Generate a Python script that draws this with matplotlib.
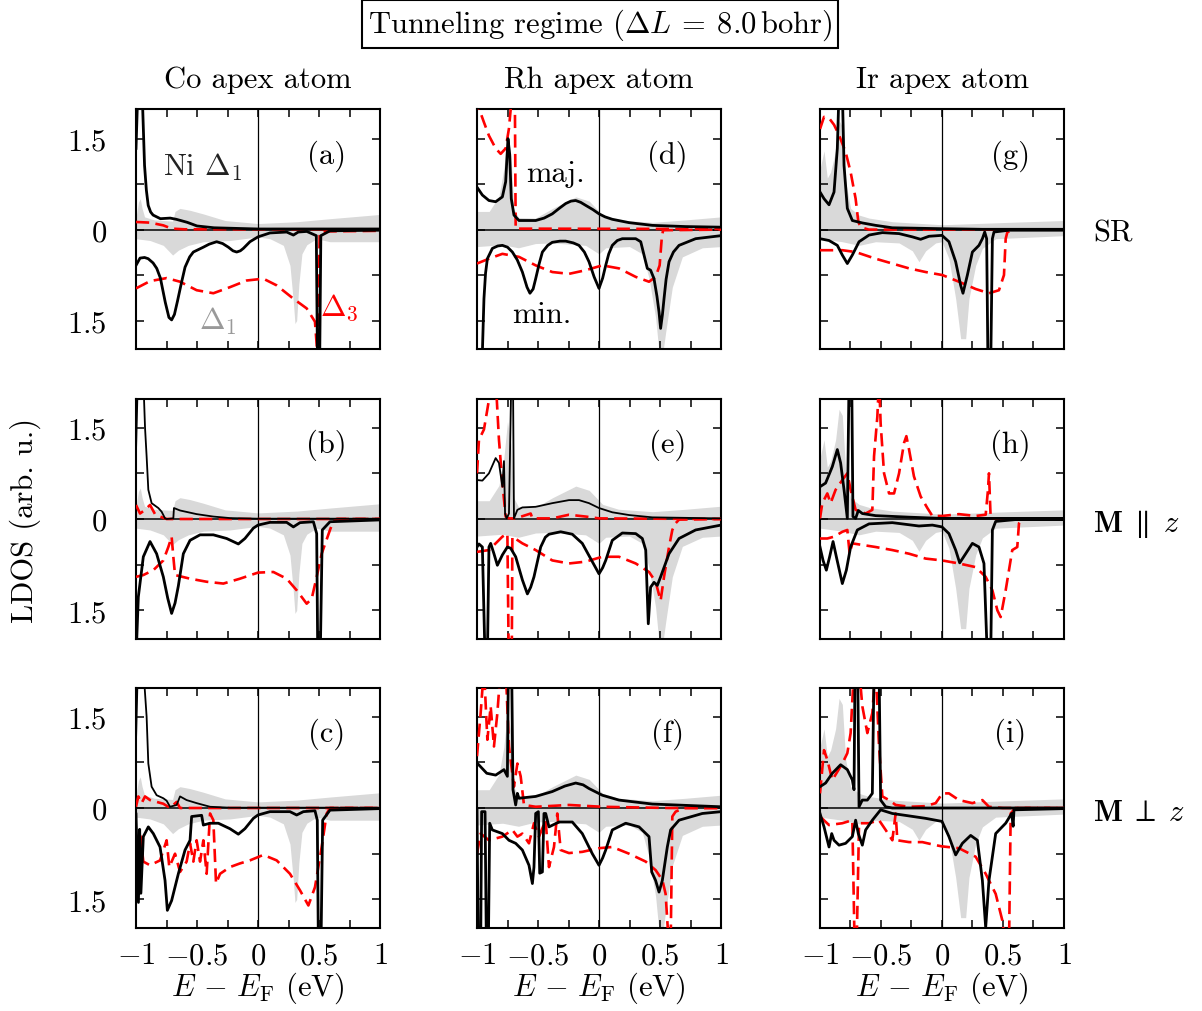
import numpy as np
import matplotlib
matplotlib.use("Agg")
import matplotlib.pyplot as plt

plt.rcParams['font.family'] = 'serif'
plt.rcParams['font.serif'] = ['cmr10']
plt.rcParams['mathtext.fontset'] = 'cm'
plt.rcParams['axes.unicode_minus'] = False
plt.rcParams['axes.formatter.use_mathtext'] = True

# ---- data: (E - E_F in eV, LDOS).  minority values stored as magnitudes ----
# grey: Ni Delta_1 reference, one per apex atom column
GREY_CO_MAJ = [(-1.0, 0.20), (-0.98, 0.45), (-0.965, 0.51), (-0.95, 0.35), (-0.93, 0.21), (-0.85, 0.16),
               (-0.70, 0.14), (-0.68, 0.30), (-0.64, 0.35), (-0.56, 0.32), (-0.45, 0.26), (-0.27, 0.15),
               (0.0, 0.10), (0.32, 0.13), (0.59, 0.18), (1.0, 0.25)]
GREY_CO_MIN = [(-1.0, 0.15), (-0.885, 0.18), (-0.776, 0.26), (-0.70, 0.42), (-0.653, 0.34), (-0.571, 0.26),
               (-0.448, 0.20), (-0.23, 0.18), (0.0, 0.12), (0.098, 0.15), (0.208, 0.26), (0.262, 0.59),
               (0.29, 1.2), (0.303, 1.55), (0.317, 1.5), (0.335, 0.9), (0.36, 0.4), (0.40, 0.25),
               (0.48, 0.15), (0.59, 0.2), (1.0, 0.2)]
GREY_RH_MAJ = [(-1.0, 0.30), (-0.90, 0.30), (-0.82, 0.55), (-0.78, 1.0), (-0.75, 1.6), (-0.72, 1.2),
               (-0.70, 0.35), (-0.66, 0.20), (-0.52, 0.19), (-0.38, 0.35), (-0.19, 0.54), (-0.08, 0.47),
               (0.03, 0.24), (0.16, 0.16), (0.44, 0.12), (0.71, 0.16), (1.0, 0.21)]
GREY_RH_MIN = [(-1.0, 0.28), (-0.79, 0.25), (-0.66, 0.30), (-0.52, 0.23), (-0.38, 0.22), (-0.11, 0.26),
               (0.0, 0.40), (0.055, 0.30), (0.25, 0.28), (0.355, 0.40), (0.41, 0.8), (0.464, 1.45),
               (0.505, 2.3), (0.546, 1.7), (0.601, 0.95), (0.683, 0.45), (0.847, 0.30), (1.0, 0.28)]
GREY_IR_MAJ = [(-1.0, 1.0), (-0.967, 1.3), (-0.94, 0.85), (-0.913, 0.95), (-0.872, 1.3), (-0.844, 1.8),
               (-0.817, 1.7), (-0.79, 0.8), (-0.749, 0.35), (-0.68, 0.24), (-0.598, 0.19), (-0.407, 0.13),
               (0.0, 0.08), (0.276, 0.10), (0.549, 0.12), (1.0, 0.15)]
GREY_IR_MIN = [(-1.0, 0.15), (-0.817, 0.20), (-0.68, 0.26), (-0.544, 0.20), (-0.352, 0.22), (-0.243, 0.35),
               (-0.189, 0.53), (-0.134, 0.35), (-0.052, 0.22), (0.0, 0.20), (0.057, 0.48), (0.112, 1.14),
               (0.153, 1.8), (0.194, 1.8), (0.221, 1.14), (0.276, 0.59), (0.331, 0.31), (0.440, 0.15),
               (1.0, 0.10)]

# (a) Co, SR
A_MAJ = [(-1.0, 1.34), (-0.985, 2.3), (-0.95, 2.3), (-0.93, 1.06), (-0.915, 0.65), (-0.90, 0.40),
         (-0.88, 0.29), (-0.86, 0.24), (-0.80, 0.18), (-0.72, 0.19), (-0.67, 0.17), (-0.58, 0.12),
         (-0.50, 0.06), (-0.36, 0.03), (0.0, 0.01), (1.0, 0.01)]
A_MIN = [(-1.0, 0.59), (-0.967, 0.47), (-0.93, 0.46), (-0.90, 0.48), (-0.86, 0.55), (-0.83, 0.64),
         (-0.80, 0.80), (-0.76, 1.2), (-0.73, 1.45), (-0.708, 1.49), (-0.685, 1.40), (-0.66, 1.18),
         (-0.63, 0.90), (-0.598, 0.62), (-0.56, 0.45), (-0.53, 0.37), (-0.448, 0.29), (-0.40, 0.24),
         (-0.339, 0.20), (-0.29, 0.23), (-0.243, 0.29), (-0.205, 0.35), (-0.175, 0.37), (-0.145, 0.35),
         (-0.12, 0.31), (-0.066, 0.20), (0.0, 0.12), (0.098, 0.055), (0.235, 0.04), (0.29, 0.09),
         (0.33, 0.04), (0.40, 0.03), (0.478, 0.1), (0.488, 2.3), (0.505, 2.3), (0.515, 0.1), (0.59, 0.02),
         (1.0, 0.01)]
A_RED_MAJ = [(-1.0, 0.126), (-0.885, 0.115), (-0.776, 0.07), (-0.708, 0.016), (-0.6, 0.005), (1.0, 0.005)]
A_RED_MIN = [(-1.0, 0.97), (-0.885, 0.85), (-0.749, 0.80), (-0.639, 0.86), (-0.503, 1.0), (-0.366, 1.05),
             (-0.23, 0.95), (-0.093, 0.84), (0.044, 0.81), (0.153, 0.92), (0.29, 1.14), (0.399, 1.30),
             (0.467, 1.52), (0.481, 1.9), (0.49, 2.3), (0.505, 0.1), (0.52, 0.03), (1.0, 0.02)]

# (b) Co, M || z
B_MAJ = [(-1.0, 1.11), (-0.985, 2.3), (-0.94, 2.3), (-0.926, 1.5), (-0.913, 1.03), (-0.899, 0.48),
         (-0.872, 0.26), (-0.817, 0.18), (-0.79, 0.12), (-0.762, 0.01), (-0.749, 0.0), (-0.694, 0.01),
         (-0.689, 0.18), (-0.639, 0.14), (-0.503, 0.08), (-0.366, 0.04), (-0.23, 0.015), (0.0, 0.005),
         (1.0, 0.005)]
B_MIN = [(-1.0, 2.3), (-0.981, 1.28), (-0.94, 0.62), (-0.885, 0.37), (-0.831, 0.57), (-0.776, 0.95),
         (-0.74, 1.3), (-0.708, 1.55), (-0.68, 1.38), (-0.653, 1.1), (-0.612, 0.57), (-0.557, 0.35),
         (-0.475, 0.26), (-0.366, 0.26), (-0.257, 0.32), (-0.161, 0.41), (-0.107, 0.32), (-0.038, 0.15),
         (0.0, 0.10), (0.098, 0.055), (0.235, 0.055), (0.29, 0.13), (0.344, 0.06), (0.454, 0.045),
         (0.481, 0.24), (0.49, 2.3), (0.51, 2.3), (0.527, 0.18), (0.59, 0.045), (1.0, 0.015)]
B_RED_MAJ = [(-1.0, 0.23), (-0.967, 0.09), (-0.926, 0.15), (-0.885, 0.23), (-0.844, 0.08), (-0.803, 0.04),
             (-0.749, 0.0), (1.0, 0.0)]
B_RED_MIN = [(-1.0, 0.95), (-0.94, 0.92), (-0.858, 0.84), (-0.776, 0.68), (-0.735, 0.46), (-0.708, 0.29),
             (-0.694, 0.62), (-0.68, 0.92), (-0.557, 0.98), (-0.421, 1.03), (-0.284, 1.06), (-0.148, 0.98),
             (0.0, 0.88), (0.126, 0.87), (0.235, 0.98), (0.317, 1.17), (0.399, 1.39), (0.44, 1.31),
             (0.481, 0.95), (0.522, 0.57), (0.59, 0.18), (0.617, 0.04), (0.65, 0.0), (1.0, 0.0)]

# (c) Co, M perp z
C_MAJ = [(-1.0, 1.1), (-0.985, 2.3), (-0.94, 2.3), (-0.913, 1.5), (-0.899, 0.73), (-0.872, 0.35),
         (-0.831, 0.21), (-0.776, 0.16), (-0.749, 0.12), (-0.721, 0.02), (-0.667, 0.05), (-0.639, 0.19),
         (-0.585, 0.13), (-0.503, 0.08), (-0.393, 0.02), (-0.23, 0.005), (1.0, 0.005)]
C_MIN = [(-1.0, 0.1), (-0.98, 1.55), (-0.97, 0.35), (-0.96, 1.4), (-0.94, 0.47), (-0.899, 0.31),
         (-0.858, 0.42), (-0.803, 0.64), (-0.762, 1.19), (-0.743, 1.68), (-0.708, 1.52), (-0.653, 1.08),
         (-0.598, 0.69), (-0.557, 0.53), (-0.544, 0.14), (-0.503, 0.13), (-0.462, 0.12), (-0.448, 0.28),
         (-0.393, 0.25), (-0.325, 0.25), (-0.23, 0.34), (-0.161, 0.43), (-0.107, 0.34), (-0.038, 0.17),
         (0.0, 0.115), (0.098, 0.06), (0.262, 0.06), (0.317, 0.115), (0.372, 0.06), (0.467, 0.045),
         (0.486, 0.2), (0.495, 2.3), (0.516, 2.3), (0.530, 0.2), (0.59, 0.035), (1.0, 0.01)]
C_RED_MAJ = [(-1.0, 0.02), (-0.981, 0.19), (-0.954, 0.08), (-0.926, 0.19), (-0.885, 0.13), (-0.831, 0.10),
             (-0.776, 0.07), (-0.721, 0.0), (-0.667, 0.10), (-0.639, 0.0), (1.0, 0.0)]
C_RED_MIN = [(-1.0, 0.64), (-0.967, 0.39), (-0.94, 0.88), (-0.885, 0.94), (-0.803, 0.86), (-0.749, 0.53),
             (-0.727, 0.97), (-0.68, 0.75), (-0.639, 1.05), (-0.585, 0.88), (-0.557, 0.58), (-0.53, 0.88),
             (-0.503, 0.53), (-0.475, 0.88), (-0.448, 0.53), (-0.421, 1.08), (-0.393, 0.09), (-0.366, 0.2),
             (-0.344, 1.24), (-0.311, 1.08), (-0.23, 0.97), (-0.148, 0.91), (-0.066, 0.86), (0.044, 0.77),
             (0.153, 0.86), (0.262, 1.08), (0.344, 1.35), (0.413, 1.6), (0.467, 1.30), (0.522, 0.64),
             (0.563, 0.09), (0.59, 0.0), (1.0, 0.0)]

# (d) Rh, SR
D_MAJ = [(-1.0, 0.70), (-0.956, 0.57), (-0.902, 0.48), (-0.847, 0.46), (-0.792, 0.54), (-0.765, 0.79),
         (-0.746, 1.5), (-0.732, 1.24), (-0.719, 0.51), (-0.697, 0.24), (-0.656, 0.15), (-0.519, 0.15),
         (-0.45, 0.19), (-0.383, 0.26), (-0.32, 0.36), (-0.273, 0.43), (-0.23, 0.47), (-0.191, 0.48),
         (-0.15, 0.45), (-0.109, 0.40), (-0.05, 0.33), (0.0, 0.26), (0.05, 0.21), (0.109, 0.17),
         (0.246, 0.115), (0.437, 0.07), (0.71, 0.05), (1.0, 0.04)]
D_MIN = [(-1.0, 2.3), (-0.96, 2.3), (-0.943, 1.14), (-0.93, 0.72), (-0.915, 0.48), (-0.874, 0.31),
         (-0.83, 0.27), (-0.792, 0.26), (-0.75, 0.29), (-0.71, 0.37), (-0.67, 0.50), (-0.628, 0.70),
         (-0.59, 0.95), (-0.566, 1.05), (-0.54, 0.98), (-0.519, 0.81), (-0.49, 0.56), (-0.464, 0.37),
         (-0.42, 0.26), (-0.383, 0.21), (-0.32, 0.19), (-0.273, 0.19), (-0.21, 0.22), (-0.164, 0.26),
         (-0.12, 0.37), (-0.082, 0.53), (-0.04, 0.78), (0.0, 0.97), (0.03, 0.80), (0.055, 0.59),
         (0.08, 0.40), (0.109, 0.26), (0.15, 0.18), (0.191, 0.15), (0.301, 0.15), (0.342, 0.20),
         (0.369, 0.42), (0.396, 0.64), (0.423, 0.67), (0.451, 0.81), (0.475, 1.1), (0.492, 1.36),
         (0.505, 1.63), (0.52, 1.40), (0.533, 1.14), (0.55, 0.82), (0.574, 0.53), (0.61, 0.37),
         (0.656, 0.26), (0.792, 0.15), (1.0, 0.10)]
D_RED_MAJ = [(-1.0, 2.2), (-0.984, 2.0), (-0.943, 1.77), (-0.902, 1.55), (-0.847, 1.34), (-0.806, 1.25),
             (-0.765, 1.34), (-0.738, 1.67), (-0.71, 2.3), (-0.69, 2.3), (-0.683, 0.016), (1.0, 0.01)]
D_RED_MIN = [(-1.0, 0.56), (-0.902, 0.48), (-0.792, 0.40), (-0.656, 0.45), (-0.519, 0.59), (-0.383, 0.70),
             (-0.246, 0.73), (-0.109, 0.67), (0.027, 0.59), (0.164, 0.64), (0.301, 0.78), (0.41, 0.86),
             (0.464, 0.78), (0.497, 0.59), (0.514, 0.15), (0.525, 0.01), (1.0, 0.0)]

# (e) Rh, M || z
E_MAJ = [(-1.0, 0.64), (-0.956, 0.63), (-0.902, 0.75), (-0.847, 1.0), (-0.82, 0.92), (-0.792, 0.53),
         (-0.779, 0.95), (-0.770, 0.09), (-0.757, 0.01), (-0.738, 0.09), (-0.719, 2.3), (-0.705, 2.3),
         (-0.697, 0.01), (-0.669, 0.15), (-0.628, 0.19), (-0.519, 0.20), (-0.383, 0.26), (-0.246, 0.31),
         (-0.164, 0.31), (-0.082, 0.26), (0.0, 0.18), (0.109, 0.11), (0.246, 0.065), (0.437, 0.027),
         (1.0, 0.01)]
E_MIN = [(-1.0, 0.46), (-0.984, 0.41), (-0.956, 0.46), (-0.934, 2.3), (-0.915, 2.3), (-0.902, 0.46),
         (-0.888, 0.40), (-0.861, 0.57), (-0.833, 0.76), (-0.792, 0.59), (-0.751, 0.46), (-0.724, 0.48),
         (-0.683, 0.62), (-0.628, 1.0), (-0.587, 1.23), (-0.56, 1.12), (-0.533, 0.95), (-0.478, 0.46),
         (-0.44, 0.30), (-0.410, 0.25), (-0.314, 0.21), (-0.219, 0.25), (-0.137, 0.40), (-0.055, 0.70),
         (0.0, 0.90), (0.03, 0.80), (0.055, 0.68), (0.109, 0.35), (0.191, 0.23), (0.301, 0.24),
         (0.355, 0.32), (0.383, 0.51), (0.404, 1.72), (0.423, 1.12), (0.451, 1.04), (0.478, 1.09),
         (0.505, 0.95), (0.574, 0.57), (0.656, 0.32), (0.792, 0.18), (1.0, 0.10)]
E_RED_MAJ = [(-1.0, 0.75), (-0.984, 1.30), (-0.943, 1.47), (-0.915, 1.8), (-0.874, 2.3), (-0.847, 2.3),
             (-0.82, 1.30), (-0.792, 0.59), (-0.765, 0.04), (-0.738, 0.01), (-0.683, 0.01), (-0.560, 0.09),
             (-0.546, 0.01), (-0.383, 0.01), (-0.246, 0.07), (-0.109, 0.04), (0.0, 0.01), (1.0, 0.0)]
E_RED_MIN = [(-1.0, 0.54), (-0.902, 0.51), (-0.792, 0.29), (-0.751, 0.24), (-0.74, 2.3), (-0.715, 2.3),
             (-0.710, 0.29), (-0.628, 0.40), (-0.519, 0.51), (-0.383, 0.68), (-0.246, 0.73), (-0.109, 0.70),
             (0.027, 0.62), (0.164, 0.62), (0.301, 0.73), (0.41, 0.87), (0.464, 1.03), (0.505, 1.34),
             (0.533, 0.95), (0.574, 0.46), (0.601, 0.18), (0.628, 0.07), (0.656, 0.01), (1.0, 0.0)]

# (f) Rh, M perp z
F_MAJ = [(-1.0, 0.74), (-0.92, 0.57), (-0.847, 0.54), (-0.779, 0.63), (-0.751, 0.52), (-0.743, 2.3),
         (-0.716, 2.3), (-0.705, 0.30), (-0.683, 0.05), (-0.669, 0.24), (-0.656, 0.16), (-0.519, 0.19),
         (-0.383, 0.27), (-0.28, 0.36), (-0.191, 0.41), (-0.13, 0.38), (-0.082, 0.32), (0.027, 0.21),
         (0.164, 0.13), (0.437, 0.065), (1.0, 0.02)]
F_MIN = [(-1.0, 0.03), (-0.99, 2.3), (-0.97, 2.3), (-0.962, 0.06), (-0.934, 0.06), (-0.923, 2.3),
         (-0.907, 2.3), (-0.896, 0.25), (-0.874, 0.36), (-0.792, 0.42), (-0.738, 0.53), (-0.683, 0.58),
         (-0.628, 0.69), (-0.574, 0.94), (-0.546, 1.24), (-0.533, 0.97), (-0.519, 0.09), (-0.497, 0.06),
         (-0.486, 1.07), (-0.464, 1.05), (-0.451, 0.09), (-0.437, 0.09), (-0.410, 0.31), (-0.328, 0.23),
         (-0.219, 0.23), (-0.137, 0.42), (-0.055, 0.75), (0.0, 0.94), (0.03, 0.82), (0.055, 0.69),
         (0.109, 0.36), (0.219, 0.25), (0.328, 0.31), (0.410, 0.47), (0.432, 1.05), (0.464, 1.19),
         (0.492, 1.38), (0.519, 1.19), (0.560, 0.64), (0.587, 0.36), (0.656, 0.20), (0.847, 0.09),
         (1.0, 0.06)]
F_RED_MAJ = [(-1.0, 0.85), (-0.970, 1.56), (-0.943, 2.3), (-0.915, 1.12), (-0.888, 1.67), (-0.861, 1.01),
             (-0.833, 1.56), (-0.806, 2.3), (-0.765, 2.3), (-0.738, 1.01), (-0.697, 0.35), (-0.669, 0.73),
             (-0.642, 0.52), (-0.615, 0.05), (-0.519, 0.02), (-0.246, 0.05), (0.027, 0.02), (0.574, 0.0),
             (1.0, 0.0)]
F_RED_MIN = [(-1.0, 0.75), (-0.97, 0.42), (-0.902, 0.53), (-0.792, 0.47), (-0.71, 0.36), (-0.669, 0.47),
             (-0.628, 0.42), (-0.574, 0.58), (-0.533, 0.25), (-0.492, 0.47), (-0.437, 0.20), (-0.410, 0.97),
             (-0.369, 0.64), (-0.342, 0.09), (-0.314, 0.69), (-0.246, 0.74), (-0.137, 0.72), (0.0, 0.66),
             (0.109, 0.64), (0.246, 0.75), (0.383, 0.88), (0.464, 1.02), (0.519, 1.18), (0.546, 1.41),
             (0.574, 2.3), (0.587, 2.3), (0.601, 0.14), (0.628, 0.06), (0.7, 0.0), (1.0, 0.0)]

# (g) Ir, SR
G_MAJ = [(-1.0, 0.62), (-0.967, 0.51), (-0.926, 0.41), (-0.885, 0.62), (-0.858, 1.34), (-0.844, 2.3),
         (-0.817, 2.3), (-0.803, 1.06), (-0.776, 0.35), (-0.735, 0.15), (-0.653, 0.11), (-0.544, 0.07),
         (-0.407, 0.03), (0.0, 0.015), (0.331, 0.005), (1.0, 0.005)]
G_MIN = [(-1.0, 0.15), (-0.926, 0.18), (-0.858, 0.26), (-0.817, 0.42), (-0.776, 0.56), (-0.735, 0.42),
         (-0.680, 0.20), (-0.598, 0.09), (-0.489, 0.05), (-0.352, 0.066), (-0.243, 0.12), (-0.175, 0.16),
         (-0.107, 0.11), (0.0, 0.095), (0.057, 0.20), (0.112, 0.53), (0.153, 0.92), (0.172, 1.05),
         (0.208, 0.75), (0.249, 0.37), (0.303, 0.26), (0.331, 0.15), (0.350, 0.04), (0.366, 0.15),
         (0.377, 2.3), (0.399, 2.3), (0.413, 0.15), (0.426, 0.04), (0.549, 0.01), (1.0, 0.01)]
G_RED_MAJ = [(-1.0, 1.66), (-0.967, 1.86), (-0.926, 1.84), (-0.885, 1.73), (-0.844, 1.56), (-0.790, 1.28),
             (-0.749, 0.95), (-0.708, 0.51), (-0.686, 0.13), (-0.667, 0.04), (-0.6, 0.0), (1.0, 0.0)]
G_RED_MIN = [(-1.0, 0.34), (-0.817, 0.34), (-0.708, 0.37), (-0.544, 0.48), (-0.407, 0.56), (-0.270, 0.64),
             (-0.134, 0.70), (0.003, 0.75), (0.139, 0.86), (0.276, 0.98), (0.385, 1.05), (0.467, 1.00),
             (0.508, 0.75), (0.522, 0.15), (0.536, 0.04), (0.6, 0.0), (1.0, 0.0)]

# (h) Ir, M || z
H_MAJ = [(-1.0, 0.53), (-0.954, 0.59), (-0.899, 0.86), (-0.858, 1.14), (-0.831, 0.92), (-0.803, 0.48),
         (-0.776, 0.01), (-0.762, 2.3), (-0.740, 2.3), (-0.730, 0.04), (-0.708, 0.01), (-0.686, 0.14),
         (-0.653, 0.09), (-0.544, 0.055), (-0.270, 0.03), (0.0, 0.01), (1.0, 0.01)]
H_MIN = [(-1.0, 0.46), (-0.975, 0.68), (-0.948, 0.84), (-0.921, 0.62), (-0.893, 0.37), (-0.866, 0.62),
         (-0.817, 1.06), (-0.784, 0.84), (-0.749, 0.46), (-0.694, 0.18), (-0.598, 0.08), (-0.407, 0.06),
         (-0.189, 0.115), (-0.079, 0.10), (0.0, 0.13), (0.057, 0.24), (0.112, 0.51), (0.145, 0.72),
         (0.194, 0.57), (0.249, 0.40), (0.303, 0.46), (0.344, 0.73), (0.372, 2.3), (0.399, 2.3),
         (0.413, 0.18), (0.440, 0.04), (0.6, 0.01), (1.0, 0.01)]
H_RED_MAJ = [(-1.0, 0.01), (-0.981, 0.26), (-0.94, 0.42), (-0.913, 0.26), (-0.872, 0.48), (-0.817, 0.64),
             (-0.776, 0.75), (-0.749, 0.48), (-0.708, 0.15), (-0.626, 0.09), (-0.571, 0.15), (-0.557, 1.03),
             (-0.530, 1.68), (-0.516, 2.3), (-0.503, 1.57), (-0.475, 0.75), (-0.434, 0.42), (-0.393, 0.42),
             (-0.352, 0.75), (-0.311, 1.25), (-0.292, 1.36), (-0.270, 1.14), (-0.230, 0.70), (-0.175, 0.37),
             (-0.120, 0.18), (-0.079, 0.05), (0.003, 0.05), (0.139, 0.08), (0.276, 0.05), (0.358, 0.07),
             (0.377, 0.48), (0.385, 0.75), (0.399, 0.01), (1.0, 0.0)]
H_RED_MIN = [(-1.0, 0.32), (-0.94, 0.32), (-0.885, 0.29), (-0.817, 0.21), (-0.776, 0.18), (-0.757, 0.57),
             (-0.735, 0.40), (-0.544, 0.46), (-0.407, 0.51), (-0.270, 0.57), (-0.134, 0.65), (0.0, 0.68),
             (0.139, 0.73), (0.276, 0.79), (0.358, 0.95), (0.413, 1.17), (0.454, 1.50), (0.481, 1.61),
             (0.522, 1.17), (0.576, 0.51), (0.617, 0.46), (0.631, 0.07), (0.66, 0.0), (1.0, 0.0)]

# (i) Ir, M perp z
I_MAJ = [(-1.0, 0.35), (-0.954, 0.41), (-0.899, 0.57), (-0.831, 0.71), (-0.776, 0.63), (-0.735, 0.46),
         (-0.721, 0.30), (-0.713, 2.3), (-0.691, 2.3), (-0.680, 0.02), (-0.653, 0.13), (-0.612, 0.13),
         (-0.571, 0.24), (-0.557, 2.3), (-0.516, 2.3), (-0.503, 0.13), (-0.462, 0.02), (-0.407, 0.0),
         (1.0, 0.0)]
I_MIN = [(-1.0, 0.09), (-0.967, 0.31), (-0.926, 0.64), (-0.904, 0.42), (-0.885, 0.53), (-0.844, 0.61),
         (-0.790, 0.58), (-0.735, 0.47), (-0.708, 0.20), (-0.686, 0.42), (-0.653, 0.61), (-0.626, 0.36),
         (-0.571, 0.20), (-0.503, 0.03), (-0.407, 0.09), (-0.270, 0.13), (-0.134, 0.17), (0.0, 0.22),
         (0.057, 0.47), (0.112, 0.77), (0.167, 0.58), (0.235, 0.45), (0.290, 0.53), (0.331, 1.19),
         (0.358, 1.96), (0.385, 1.19), (0.440, 0.42), (0.522, 0.25), (0.571, 0.09), (0.583, 0.3),
         (0.59, 0.03), (1.0, 0.01)]
I_RED_MAJ = [(-1.0, 0.24), (-0.967, 0.95), (-0.940, 0.79), (-0.899, 0.46), (-0.817, 0.73), (-0.776, 0.90),
             (-0.749, 1.23), (-0.721, 2.3), (-0.680, 2.3), (-0.653, 1.67), (-0.612, 1.23), (-0.571, 1.56),
             (-0.544, 2.3), (-0.516, 1.01), (-0.489, 0.19), (-0.434, 0.13), (-0.380, 0.05), (-0.270, 0.02),
             (-0.134, 0.03), (-0.052, 0.08), (0.003, 0.24), (0.057, 0.24), (0.139, 0.13), (0.249, 0.08),
             (0.331, 0.13), (0.385, 0.02), (0.5, 0.0), (1.0, 0.0)]
I_RED_MIN = [(-1.0, 0.14), (-0.926, 0.28), (-0.817, 0.25), (-0.735, 0.20), (-0.716, 2.3), (-0.700, 2.3),
             (-0.680, 0.25), (-0.598, 0.25), (-0.516, 0.20), (-0.462, 0.36), (-0.407, 0.53), (-0.380, 0.09),
             (-0.366, 0.53), (-0.270, 0.56), (-0.161, 0.56), (-0.052, 0.61), (0.0, 0.63), (0.139, 0.66),
             (0.276, 0.80), (0.358, 1.08), (0.440, 1.41), (0.495, 1.85), (0.522, 2.3), (0.549, 2.3),
             (0.563, 0.09), (0.6, 0.0), (1.0, 0.0)]

COLUMN_TITLES = ['Co apex atom', 'Rh apex atom', 'Ir apex atom']
ROW_LABELS = ['SR', r'$\mathbf{M}\;\parallel\;z$', r'$\mathbf{M}\;\perp\;z$']
PANEL_LETTERS = [['(a)', '(b)', '(c)'], ['(d)', '(e)', '(f)'], ['(g)', '(h)', '(i)']]
GREYS = [(GREY_CO_MAJ, GREY_CO_MIN), (GREY_RH_MAJ, GREY_RH_MIN), (GREY_IR_MAJ, GREY_IR_MIN)]
PANELS = [[(A_MAJ, A_MIN, A_RED_MAJ, A_RED_MIN), (B_MAJ, B_MIN, B_RED_MAJ, B_RED_MIN),
           (C_MAJ, C_MIN, C_RED_MAJ, C_RED_MIN)],
          [(D_MAJ, D_MIN, D_RED_MAJ, D_RED_MIN), (E_MAJ, E_MIN, E_RED_MAJ, E_RED_MIN),
           (F_MAJ, F_MIN, F_RED_MAJ, F_RED_MIN)],
          [(G_MAJ, G_MIN, G_RED_MAJ, G_RED_MIN), (H_MAJ, H_MIN, H_RED_MAJ, H_RED_MIN),
           (I_MAJ, I_MIN, I_RED_MAJ, I_RED_MIN)]]
# thin black lines in some panels (col, row, which)
THIN = {(0, 1, 0), (0, 2, 0), (1, 1, 0)}

X_TICKS = [-1, -0.5, 0, 0.5, 1]
X_TICKLABELS = [r'$-1$', r'$-0.5$', r'$0$', r'$0.5$', r'$1$']
Y_TICKS = [-1.5, 0, 1.5]
Y_TICKLABELS = [r'$1.5$', r'$0$', r'$1.5$']

FS = 22
GREY = '#d9d9d9'
RED = '#ff0000'


def xy(pts):
    a = np.array(pts, dtype=float)
    return a[:, 0], a[:, 1]


fig = plt.figure(figsize=(12.02, 10.12), dpi=100)
W, H = 1202.0, 1012.0
col_left = [136, 477, 820]
row_top = [110, 400, 689]
ax_w, ax_h = 244, 240

for c in range(3):
    gx_up, gy_up = xy(GREYS[c][0])
    gx_dn, gy_dn = xy(GREYS[c][1])
    for r in range(3):
        ax = fig.add_axes([col_left[c] / W, 1 - (row_top[r] + ax_h) / H, ax_w / W, ax_h / H])
        ax.fill_between(gx_up, 0, gy_up, color=GREY, lw=0, zorder=1)
        ax.fill_between(gx_dn, 0, -gy_dn, color=GREY, lw=0, zorder=1)
        ax.axhline(0, color='black', lw=1.1, zorder=2)
        ax.axvline(0, color='black', lw=0.9, zorder=2)
        maj, mnr, rmaj, rmin = PANELS[c][r]
        for k, pts in enumerate([rmaj, rmin]):
            x, y = xy(pts)
            ax.plot(x, y if k == 0 else -y, color=RED, lw=1.9, dashes=(5.0, 2.4), zorder=3)
        for k, pts in enumerate([maj, mnr]):
            x, y = xy(pts)
            lw = 1.3 if (c, r, k) in THIN else 2.0
            ax.plot(x, y if k == 0 else -y, color='black', lw=lw, zorder=4)

        ax.set_xlim(-1, 1)
        ax.set_ylim(-1.97, 1.99 if r == 0 else 1.97)
        ax.set_xticks(X_TICKS)
        ax.set_xticks([-0.75, -0.25, 0.25, 0.75], minor=True)
        ax.set_yticks(Y_TICKS)
        ax.set_yticks([-0.75, 0.75], minor=True)
        ax.tick_params(which='both', direction='in', top=True, right=True, length=6, width=1.1)
        ax.tick_params(axis='x', which='major', pad=10, labelsize=FS)
        ax.tick_params(axis='y', which='major', pad=21, labelsize=FS)
        for s in ax.spines.values():
            s.set_linewidth(1.5)
        if c == 0:
            ax.set_yticklabels(Y_TICKLABELS)
        else:
            ax.set_yticklabels([])
        if r == 2:
            ax.set_xticklabels(X_TICKLABELS)
            ax.set_xlabel(r'$E\,-\,E_{\mathrm{F}}$ (eV)', fontsize=FS, labelpad=0)
        else:
            ax.set_xticklabels([])
        ax.text(0.56, 1.22, PANEL_LETTERS[c][r], fontsize=FS, ha='center', va='center')

        if c == 0 and r == 0:
            ax.text(-0.45, 1.05, r'Ni $\Delta_1$', fontsize=FS, ha='center', va='center', color='#222222')
            ax.text(-0.33, -1.5, r'$\Delta_1$', fontsize=FS, ha='center', va='center', color='#999999')
            ax.text(0.67, -1.27, r'$\Delta_3$', fontsize=FS, ha='center', va='center', color=RED)
        if c == 1 and r == 0:
            ax.text(-0.36, 0.93, 'maj.', fontsize=FS, ha='center', va='center')
            ax.text(-0.47, -1.4, 'min.', fontsize=FS, ha='center', va='center')

for c in range(3):
    fig.text((col_left[c] + ax_w / 2) / W, 1 - 80 / H, COLUMN_TITLES[c], fontsize=FS, ha='center', va='center')

for r, lab in enumerate(ROW_LABELS):
    zero_px = row_top[r] + ax_h / 2
    fig.text(1093 / W, 1 - (zero_px + 4) / H, lab, fontsize=FS, ha='left', va='center')

fig.text(25 / W, 1 - 520 / H, 'LDOS (arb. u.)', fontsize=FS, rotation=90, ha='center', va='center')
fig.text(600 / W, 1 - 25 / H, r'Tunneling regime ($\Delta L\:=\:8.0\,$bohr)', fontsize=FS,
         ha='center', va='center',
         bbox=dict(boxstyle='square,pad=0.2', fc='white', ec='black', lw=1.5))

fig.savefig('out.png', dpi=100)
